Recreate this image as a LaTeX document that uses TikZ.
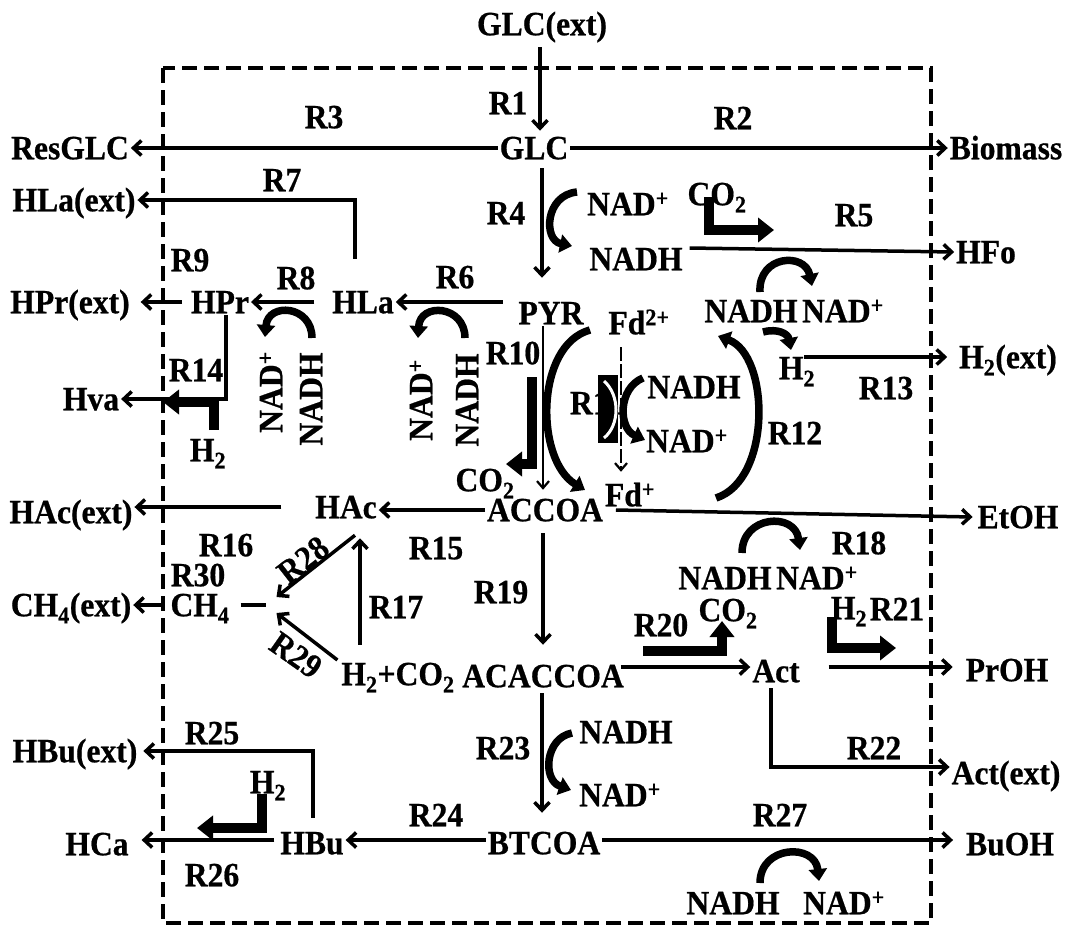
\documentclass[tikz,border=0pt]{standalone}
\usepackage{fontspec}
\setmainfont{Liberation Serif}[FakeStretch=0.93,FakeBold=0.6]
\usetikzlibrary{arrows.meta}
\begin{document}
\begin{tikzpicture}[x=1pt,y=-1pt,
 lab/.style={font=\fontsize{34}{36}\selectfont\bfseries, inner sep=0pt, outer sep=2pt, text height=22.5pt, text depth=0pt},
 arr/.style={line width=3.5pt, -{Straight Barb[length=8pt,width=15pt]}},
 thinarr/.style={line width=2.2pt, -{Straight Barb[length=7pt,width=12pt]}},
 bigarr/.style={line width=10pt, line join=miter, -{Triangle[length=16pt,width=24pt]}},
 curv/.style={line width=7.5pt, -{Triangle[length=12pt,width=18pt]}},
 boxline/.style={line width=4.5pt, dash pattern=on 15pt off 7pt}]
\useasboundingbox (0,0) rectangle (1068,930);
\fill[white] (0,0) rectangle (1068,930);
\draw[boxline] (163,68) rectangle (931,923);

\node[lab] (glcext) at (542,24) {GLC(ext)};
\node[lab] (glc) at (534,148) {GLC};
\node[lab] (resglc) at (70,148) {ResGLC};
\node[lab] (biomass) at (1006,148) {Biomass};
\node[lab] (r1) at (508,103) {R1};
\node[lab] (r2) at (733,118) {R2};
\node[lab] (r3) at (324,117) {R3};
\node[lab] (hlaext) at (74,200) {HLa(ext)};
\node[lab] (r7) at (282,180) {R7};
\node[lab] (r4) at (506,213) {R4};
\node[lab] (nadpa) at (628,204) {NAD\textsuperscript{+}};
\node[lab] (nadha) at (636,259) {NADH};
\node[lab] (co2a) at (717,194) {CO\textsubscript{2}};
\node[lab] (r5) at (854,215) {R5};
\node[lab] (hfo) at (986,252) {HFo};
\node[lab] (r9) at (190,260) {R9};
\node[lab] (r8) at (296,278) {R8};
\node[lab] (r6) at (455,277) {R6};
\node[lab] (hprext) at (70,302) {HPr(ext)};
\node[lab] (hpr) at (220,302) {HPr};
\node[lab] (hla) at (363,302) {HLa};
\node[lab] (pyr) at (551,313) {PYR};
\node[lab] (fdtwo) at (639,323) {Fd\textsuperscript{2+}};
\node[lab] (nadhb) at (751,311) {NADH};
\node[lab] (nadpb) at (843,311) {NAD\textsuperscript{+}};
\node[lab] (htwob) at (797,368) {H\textsubscript{2}};
\node[lab] (htwoext) at (1008,357) {H\textsubscript{2}(ext)};
\node[lab] (r13) at (886,388) {R13};
\node[lab] (r12) at (795,433) {R12};
\node[lab] (r10) at (513,353) {R10};
\node[lab] (r14) at (196,370) {R14};
\node[lab] (hva) at (91,399) {Hva};
\node[lab] (htwoa) at (208,450) {H\textsubscript{2}};
\node[lab,rotate=90] (nadpc) at (271,392) {NAD\textsuperscript{+}};
\node[lab,rotate=90] (nadhc) at (311,399) {NADH};
\node[lab,rotate=90] (nadpd) at (421,400) {NAD\textsuperscript{+}};
\node[lab,rotate=90] (nadhd) at (467,400) {NADH};
\node[lab,anchor=west] (r11) at (568,403) {R11};
\node[lab] (nadhe) at (694,387) {NADH};
\node[lab] (nadpe) at (687,441) {NAD\textsuperscript{+}};
\node[lab] (co2b) at (485,480) {CO\textsubscript{2}};
\node[lab] (fdp) at (630,495) {Fd\textsuperscript{+}};
\node[lab] (hacext) at (71,512) {HAc(ext)};
\node[lab] (hac) at (346,507) {HAc};
\node[lab] (accoa) at (545,510) {ACCOA};
\node[lab] (etoh) at (1018,517) {EtOH};
\node[lab] (r16) at (226,545) {R16};
\node[lab] (r15) at (436,548) {R15};
\node[lab,rotate=38] (r28) at (303,560) {R28};
\node[lab] (r18) at (859,543) {R18};
\node[lab] (nadhf) at (725,578) {NADH};
\node[lab] (nadpf) at (817,578) {NAD\textsuperscript{+}};
\node[lab] (r30) at (198,575) {R30};
\node[lab] (r19) at (501,592) {R19};
\node[lab] (r17) at (396,607) {R17};
\node[lab] (ch4ext) at (71,605) {CH\textsubscript{4}(ext)};
\node[lab] (ch4) at (200,605) {CH\textsubscript{4}};
\node[lab] (r20) at (661,625) {R20};
\node[lab] (co2c) at (728,610) {CO\textsubscript{2}};
\node[lab] (htwoc) at (849,608) {H\textsubscript{2}};
\node[lab] (r21) at (897,609) {R21};
\node[lab,rotate=-35] (r29) at (296,655) {R29};
\node[lab] (h2co2) at (398,674) {H\textsubscript{2}+CO\textsubscript{2}};
\node[lab] (acaccoa) at (543,676) {ACACCOA};
\node[lab] (act) at (776,671) {Act};
\node[lab] (proh) at (1007,670) {PrOH};
\node[lab] (r23) at (503,748) {R23};
\node[lab] (nadhg) at (626,732) {NADH};
\node[lab] (nadpg) at (620,795) {NAD\textsuperscript{+}};
\node[lab] (hbuext) at (75,751) {HBu(ext)};
\node[lab] (r25) at (212,733) {R25};
\node[lab] (r22) at (874,748) {R22};
\node[lab] (actext) at (1006,773) {Act(ext)};
\node[lab] (htwod) at (268,782) {H\textsubscript{2}};
\node[lab] (r24) at (436,815) {R24};
\node[lab] (r27) at (780,815) {R27};
\node[lab] (hca) at (97,844) {HCa};
\node[lab] (hbu) at (312,843) {HBu};
\node[lab] (btcoa) at (544,843) {BTCOA};
\node[lab] (buoh) at (1010,844) {BuOH};
\node[lab] (r26) at (212,875) {R26};
\node[lab] (nadhh) at (733,903) {NADH};
\node[lab] (nadph) at (844,903) {NAD\textsuperscript{+}};

% connectors
\draw[arr] ([xshift=-2pt,yshift=-10pt]glcext.south) -- ([xshift=6pt,yshift=4pt]glc.north);
\draw[arr] (glc.west) -- (glc.west -| resglc.east);
\draw[arr] (glc.east) -- (glc.east -| biomass.west);
\draw[arr] ([xshift=8pt,yshift=-7pt]glc.south) -- ([xshift=-9pt,yshift=22pt]pyr.north);
\draw[arr] ([xshift=-8pt,yshift=30pt]hla.north) |- (hlaext.east);
\draw[arr] ([xshift=-14pt,yshift=11pt]pyr.west) -- (hla.east);
\draw[arr] ([xshift=-16pt]hla.west) -- (hpr.east);
\draw[arr] ([xshift=-7pt]hpr.west) -- ([xshift=9pt]hprext.east);
\draw[arr] ([xshift=6pt]hpr.south) |- (hva.east);
\draw[thinarr] ([xshift=-8pt]pyr.south) -- ([xshift=-2pt,yshift=7pt]accoa.north);
\draw[thinarr, dash pattern=on 14pt off 3pt] ([xshift=-18pt,yshift=-11pt]fdtwo.south) -- ([xshift=-9pt,yshift=10pt]fdp.north);
\draw[arr] ([xshift=-13pt,yshift=11pt]htwob.east) -- ([xshift=-10pt]htwoext.west);
\draw[arr] ([xshift=5pt,yshift=11pt]nadha.east) -- (hfo.west);
\draw[arr] ([xshift=11pt]accoa.east) -- ([xshift=-3pt]etoh.west);
\draw[arr] (accoa.west) -- (accoa.west -| hac.east);
\draw[arr] ([xshift=-32pt]hac.west) -- (hac.west -| hacext.east);
\draw[arr] ([xshift=-38pt,yshift=16pt]h2co2.north) -- ([xshift=14pt,yshift=-18pt]hac.south);
\draw[arr] ([xshift=9pt,yshift=-15pt]hac.south) -- ([xshift=45pt,yshift=8pt]ch4.east);
\draw[arr] ([xshift=-2pt,yshift=14pt]h2co2.west) -- ([xshift=45pt,yshift=-8pt]ch4.east);
\draw[line width=3.5pt] ([xshift=9pt]ch4.east) -- ([xshift=34pt]ch4.east);
\draw[arr] ([xshift=-8pt]ch4.west) -- (ch4.west -| ch4ext.east);
\draw[arr] ([xshift=-2pt,yshift=-10pt]accoa.south) -- ([yshift=18pt]acaccoa.north);
\draw[arr] ([xshift=-5pt,yshift=9pt]acaccoa.east) -- ([yshift=4pt]act.west);
\draw[arr] ([xshift=27pt,yshift=4pt]act.east) -- ([xshift=-11pt,yshift=3pt]proh.west);
\draw[arr] ([xshift=-5pt,yshift=-4pt]act.south) |- ([yshift=6pt]actext.west);
\draw[arr] ([xshift=-1pt,yshift=-4pt]acaccoa.south) -- ([xshift=-2pt,yshift=17pt]btcoa.north);
\draw[arr] ([yshift=3pt]btcoa.west) -- ([yshift=3pt]hbu.east);
\draw[arr] ([yshift=3pt]btcoa.east) -- ([xshift=-11pt,yshift=4pt]buoh.west);
\draw[arr] ([xshift=1pt,yshift=12pt]hbu.north) |- ([xshift=4pt]hbuext.east);
\draw[arr] ([xshift=-4pt,yshift=3pt]hbu.west) -- ([xshift=11pt,yshift=4pt]hca.east);

% R11 block
\fill (598,375) rectangle (618,443);
\draw[white,line width=3pt] (604,381) .. controls (620,395) and (620,425) .. (604,438);
\draw[curv] (643,378) .. controls (618,388) and (618,428) .. (645,440);

% curved cofactor arrows
\draw[curv] (577,192) .. controls (545,195) and (543,240) .. (572,246);
\draw[curv] (760,292) .. controls (758,255) and (805,252) .. (812,286);
\draw[curv] (312,338) .. controls (312,305) and (268,302) .. (265,337);
\draw[curv] (465,338) .. controls (465,305) and (420,302) .. (418,338);
\draw[curv] (590,330) .. controls (535,345) and (535,460) .. (585,490);
\draw[curv] (716,498) .. controls (772,480) and (770,355) .. (718,336);
\draw[curv] (763,332) .. controls (778,328) and (788,334) .. (791,350);
\draw[curv] (742,553) .. controls (742,515) and (795,512) .. (800,550);
\draw[curv] (572,733) .. controls (545,738) and (542,780) .. (571,790);
\draw[curv] (760,883) .. controls (760,845) and (815,843) .. (819,881);

% thick side arrows
\draw[bigarr] (709,197) -- (709,230) -- (774,230);
\draw[bigarr] (532,377) -- (532,464) -- (506,464);
\draw[bigarr] (214,430) -- (214,402) -- (163,402);
\draw[bigarr] (643,651) -- (722,651) -- (722,621);
\draw[bigarr] (832,617) -- (832,648) -- (896,648);
\draw[bigarr] (262,794) -- (262,828) -- (197,828);
\end{tikzpicture}
\end{document}
